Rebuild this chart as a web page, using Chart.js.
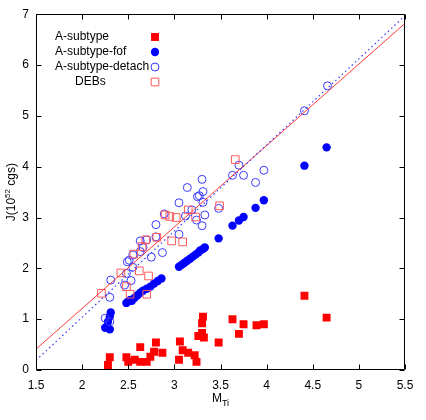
<!DOCTYPE html>
<html><head><meta charset="utf-8">
<script src="https://cdn.jsdelivr.net/npm/chart.js@4.4.0/dist/chart.umd.min.js"></script>
<style>html,body{margin:0;padding:0;background:#fff;}#wrap{width:426px;height:420px;}</style>
</head><body><div id="wrap"><canvas id="c" width="426" height="420"></canvas></div>
<script>
// ---- data ----
const seriesNames = ['A-subtype', 'A-subtype-fof', 'A-subtype-detach', 'DEBs'];

const aSubtypeX = [2.28,2.30,2.48,2.50,2.57,2.63,2.63,2.70,2.74,2.78,2.80,2.87,3.05,3.06,3.09,3.15,3.22,3.24,3.26,3.30,3.32,3.30,3.31,3.48,3.63,3.70,3.75,3.89,3.97,4.41,4.65];
const aSubtypeY = [0.10,0.25,0.25,0.16,0.20,0.45,0.16,0.16,0.26,0.36,0.54,0.34,0.20,0.56,0.39,0.34,0.29,0.16,0.67,0.73,0.64,0.92,1.05,0.54,1.00,0.71,0.90,0.88,0.90,1.46,1.03];

const fofX = [2.25,2.30,2.28,2.30,2.31,2.48,2.50,2.52,2.54,2.57,2.60,2.63,2.66,2.70,2.74,2.78,2.82,2.86,3.05,3.08,3.11,3.14,3.17,3.20,3.23,3.26,3.28,3.31,3.33,3.48,3.63,3.70,3.75,3.88,3.97,4.41,4.65];
const fofY = [0.83,0.80,0.95,1.05,1.13,1.32,1.35,1.38,1.36,1.42,1.47,1.52,1.56,1.60,1.64,1.70,1.75,1.80,2.03,2.07,2.11,2.15,2.19,2.23,2.27,2.31,2.35,2.38,2.41,2.59,2.84,2.94,3.01,3.19,3.34,4.02,4.38];

const detachX = [2.25,2.30,2.30,2.31,2.46,2.48,2.53,2.55,2.49,2.51,2.55,2.63,2.66,2.63,2.70,2.75,2.80,2.80,2.87,2.89,3.05,3.05,3.12,3.14,3.19,3.24,3.25,3.27,3.30,3.31,3.31,3.30,3.33,3.48,3.63,3.70,3.75,3.88,3.97,4.41,4.66];
const detachY = [1.02,0.95,1.43,1.77,1.67,1.90,1.76,2.02,2.13,2.16,2.26,2.33,2.41,2.54,2.56,2.22,2.62,2.86,2.31,3.07,2.67,3.29,3.03,3.59,3.15,2.95,3.41,3.43,2.84,3.30,3.51,3.75,3.05,3.18,3.83,4.03,3.83,3.69,3.93,5.10,5.59];

const debsX = [2.21,2.42,2.48,2.52,2.56,2.62,2.65,2.69,2.70,2.72,2.81,2.90,2.95,2.97,3.02,3.09,3.15,3.23,3.49,3.66];
const debsY = [1.51,1.91,1.64,1.49,2.28,1.95,2.43,2.56,1.49,1.85,2.61,3.05,3.02,2.54,3.00,2.52,3.15,3.01,3.23,4.14];

const fitRedX = [1.5, 5.5];
const fitRedY = [0.41, 6.82];
const fitBlueX = [1.5, 5.5];
const fitBlueY = [0.19, 6.97];

const xTickValues = [1.5,2,2.5,3,3.5,4,4.5,5,5.5];
const xTickLabels = ['1.5','2','2.5','3','3.5','4','4.5','5','5.5'];
const yTickValues = [0,1,2,3,4,5,6,7];
const yTickLabels = ['0','1','2','3','4','5','6','7'];

// ---- helpers ----
const FONT = "'Liberation Sans', Arial, Helvetica, sans-serif";
const zip = (xs, ys) => xs.map((x, i) => ({x: x, y: ys[i]}));

function drawMarker(ctx, style, r, x, y, fill, stroke, bw) {
  ctx.save();
  ctx.beginPath();
  if (style === 'rect') {
    const s = r * Math.SQRT1_2;
    ctx.rect(x - s, y - s, 2 * s, 2 * s);
  } else {
    ctx.arc(x, y, r, 0, Math.PI * 2);
  }
  if (fill) { ctx.fillStyle = fill; ctx.fill(); }
  if (bw > 0) { ctx.lineWidth = bw; ctx.strokeStyle = stroke; ctx.stroke(); }
  ctx.restore();
}

function drawRich(ctx, parts, cx, cy) {
  let total = 0;
  parts.forEach(p => { ctx.font = p.size + 'px ' + FONT; p.w = ctx.measureText(p.text).width; total += p.w; });
  let x = cx - total / 2;
  ctx.textAlign = 'left';
  ctx.textBaseline = 'alphabetic';
  parts.forEach(p => { ctx.font = p.size + 'px ' + FONT; ctx.fillText(p.text, x, cy + (p.dy || 0)); x += p.w; });
}

const framePlugin = {
  id: 'frame',
  afterDraw(chart) {
    const ctx = chart.ctx;
    const a = chart.chartArea;
    const xs = chart.scales.x, ys = chart.scales.y;
    ctx.save();
    ctx.strokeStyle = '#000';
    ctx.lineWidth = 1;
    const L = Math.round(a.left) + 0.5, R = Math.round(a.right) - 0.5;
    const T = Math.round(a.top) + 0.5, B = Math.round(a.bottom) - 0.5;
    ctx.beginPath();
    ctx.rect(L, T, R - L, B - T);
    const tl = 5;
    xTickValues.forEach(v => {
      const px = Math.round(xs.getPixelForValue(v)) + 0.5;
      ctx.moveTo(px, B); ctx.lineTo(px, B - tl);
      ctx.moveTo(px, T); ctx.lineTo(px, T + tl);
    });
    yTickValues.forEach(v => {
      const py = Math.round(ys.getPixelForValue(v)) + 0.5;
      ctx.moveTo(L, py); ctx.lineTo(L + tl, py);
      ctx.moveTo(R, py); ctx.lineTo(R - tl, py);
    });
    ctx.stroke();

    // axis titles
    ctx.fillStyle = '#000';
    drawRich(ctx, [{text: 'M', size: 12}, {text: 'Ti', size: 9, dy: 4}], (a.left + a.right) / 2, 402);
    ctx.save();
    ctx.translate(15, (a.top + a.bottom) / 2);
    ctx.rotate(-Math.PI / 2);
    drawRich(ctx, [{text: 'J(10', size: 12}, {text: '52', size: 8, dy: -5}, {text: ' cgs)', size: 12}], 0, 0);
    ctx.restore();

    // legend
    const textX = [55, 55, 55, 75];
    const rowY = [37, 52, 67, 82];
    const markerX = 155;
    ctx.font = '12px ' + FONT;
    ctx.textAlign = 'left';
    ctx.textBaseline = 'middle';
    for (let i = 0; i < 4; i++) {
      const ds = chart.data.datasets[i];
      ctx.fillStyle = '#000';
      ctx.fillText(seriesNames[i], textX[i], rowY[i]);
      const fill = ds.backgroundColor === 'rgba(0,0,0,0)' ? null : ds.backgroundColor;
      drawMarker(ctx, ds.pointStyle, ds.pointRadius, markerX, rowY[i], fill, ds.borderColor, ds.borderWidth);
    }
    ctx.restore();
  }
};

new Chart(document.getElementById('c'), {
  type: 'scatter',
  data: {
    datasets: [
      {label: seriesNames[0], data: zip(aSubtypeX, aSubtypeY), pointStyle: 'rect', pointRadius: 5.6,
       backgroundColor: '#ff0000', borderColor: '#ff0000', borderWidth: 0, order: 5},
      {label: seriesNames[1], data: zip(fofX, fofY), pointStyle: 'circle', pointRadius: 4.2,
       backgroundColor: '#0000ff', borderColor: '#0000ff', borderWidth: 0, order: 4},
      {label: seriesNames[2], data: zip(detachX, detachY), pointStyle: 'circle', pointRadius: 4,
       backgroundColor: 'rgba(0,0,0,0)', borderColor: '#3a3aff', borderWidth: 1, order: 3},
      {label: seriesNames[3], data: zip(debsX, debsY), pointStyle: 'rect', pointRadius: 5.4,
       backgroundColor: 'rgba(0,0,0,0)', borderColor: '#ff5a5a', borderWidth: 1, order: 2},
      {label: 'fit-red', data: zip(fitRedX, fitRedY), showLine: true, pointRadius: 0,
       borderColor: '#ff3a3a', borderWidth: 1, order: 1},
      {label: 'fit-blue', data: zip(fitBlueX, fitBlueY), showLine: true, pointRadius: 0,
       borderColor: '#3a3aff', borderWidth: 1.2, borderDash: [1.5, 3], order: 0}
    ]
  },
  options: {
    responsive: false,
    animation: false,
    devicePixelRatio: 1,
    layout: {padding: {left: 0, top: 14, right: 21, bottom: 0}},
    plugins: {legend: {display: false}, tooltip: {enabled: false}},
    elements: {point: {hoverRadius: 0}},
    scales: {
      x: {
        type: 'linear', min: 1.5, max: 5.5,
        afterBuildTicks: s => { s.ticks = xTickValues.map(v => ({value: v})); },
        afterFit: s => { s.height = 50; },
        grid: {display: false, drawTicks: false},
        border: {display: false},
        ticks: {padding: 8, color: '#000', font: {size: 12, family: FONT}, maxRotation: 0, autoSkip: false,
                callback: (v, i) => xTickLabels[i]}
      },
      y: {
        type: 'linear', min: 0, max: 7,
        afterBuildTicks: s => { s.ticks = yTickValues.map(v => ({value: v})); },
        afterFit: s => { s.width = 36; },
        grid: {display: false, drawTicks: false},
        border: {display: false},
        ticks: {padding: 7, color: '#000', font: {size: 12, family: FONT}, autoSkip: false,
                callback: (v, i) => yTickLabels[i]}
      }
    }
  },
  plugins: [framePlugin]
});
</script>
</body></html>
